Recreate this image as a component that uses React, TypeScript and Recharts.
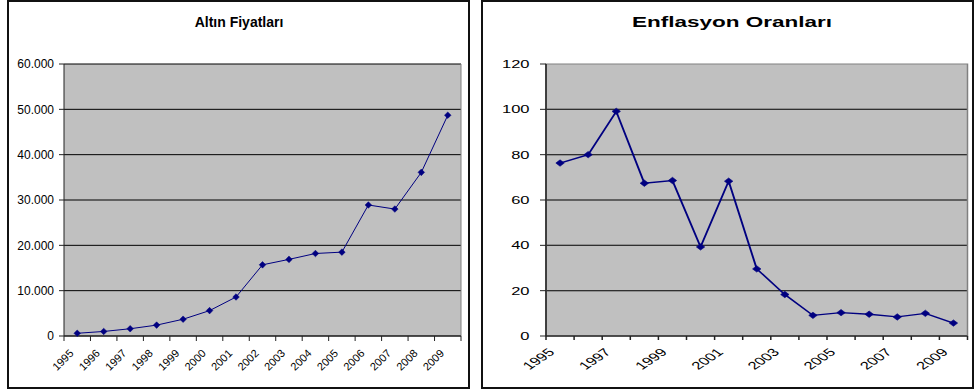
import { LineChart, Line, XAxis, YAxis, CartesianGrid, ReferenceArea, ReferenceLine } from 'recharts';

const years = ['1995', '1996', '1997', '1998', '1999', '2000', '2001', '2002', '2003', '2004', '2005', '2006', '2007', '2008', '2009'];
const goldPrices = [600, 1000, 1600, 2400, 3700, 5600, 8600, 15700, 16900, 18200, 18500, 28900, 28000, 36100, 48700];
const inflationRates = [76.3, 80, 99.1, 67.4, 68.6, 39.3, 68.3, 29.6, 18.3, 9.1, 10.3, 9.6, 8.4, 10.0, 5.7];
const goldTicks = [0, 10000, 20000, 30000, 40000, 50000, 60000];
const inflationTicks = [0, 20, 40, 60, 80, 100, 120];
const inflationLabelYears = ['1995', '1997', '1999', '2001', '2003', '2005', '2007', '2009'];

const FONT = '"Liberation Sans", Arial, sans-serif';
const NAVY = '#000080';

// boundaries between years, the points sit half way between them
const yearBounds = years.map((_, i) => i).concat(years.length);

const goldData = years.map((year, i) => ({ pos: i + 0.5, year, value: goldPrices[i] }));
const inflationData = years.map((year, i) => ({ pos: i + 0.5, year, value: inflationRates[i] }));

// left chart layout
const L_W = 470;
const L_H = 391;
const L_MARGIN = { top: 64, right: 9, bottom: 10, left: 0 };
const L_YAXIS_W = 64;
const L_STEP = (L_W - L_MARGIN.left - L_MARGIN.right - L_YAXIS_W) / years.length;

// right chart is drawn narrow and stretched sideways
const R_SCALE = 1.5;
const R_W = 329;
const R_H = 391;
const R_MARGIN = { top: 64, right: 4, bottom: 10, left: 0 };
const R_YAXIS_W = 44;
const R_STEP = (R_W - R_MARGIN.left - R_MARGIN.right - R_YAXIS_W) / years.length;

const formatThousands = (v: number) => String(v).replace(/\B(?=(\d{3})+(?!\d))/g, '.');

const Diamond = ({ cx, cy, rx, ry }: any) => {
  if (cx == null || cy == null) return <g />;
  return (
    <polygon
      points={`${cx},${cy - ry} ${cx + rx},${cy} ${cx},${cy + ry} ${cx - rx},${cy}`}
      fill={NAVY}
      stroke={NAVY}
      strokeWidth={0.5}
    />
  );
};

const YearTick = ({ x, y, payload, step, labels }: any) => {
  const idx = payload.value;
  const label = years[idx];
  if (label == null || !labels.includes(label)) return <g />;
  const tx = x + step / 2 - 3;
  const ty = y + 11;
  return (
    <text
      x={tx}
      y={ty}
      textAnchor="end"
      fontSize={11}
      fontFamily={FONT}
      fill="#000"
      transform={`rotate(-45, ${tx}, ${ty})`}
    >
      {label}
    </text>
  );
};

const frameStyle = {
  position: 'absolute' as const,
  top: 0,
  height: 389,
  border: '2px solid #111',
  boxSizing: 'border-box' as const,
};

export default function App() {
  return (
    <div style={{ position: 'absolute', left: 0, top: 0, width: 974, height: 391, background: '#fff', fontFamily: FONT }}>
      <div style={{ ...frameStyle, left: 7, width: 463 }} />
      <div style={{ ...frameStyle, left: 481, width: 493 }} />

      <div
        style={{ position: 'absolute', left: 139, top: 14, width: 200, textAlign: 'center', fontSize: 14, fontWeight: 'bold', color: '#000' }}
      >
        Altın Fiyatları
      </div>
      <div
        style={{
          position: 'absolute',
          left: 632,
          top: 13,
          width: 200,
          textAlign: 'center',
          fontSize: 15,
          fontWeight: 'bold',
          color: '#000',
          transform: `scaleX(${R_SCALE})`,
          transformOrigin: '50% 50%',
          whiteSpace: 'nowrap',
        }}
      >
        Enflasyon Oranları
      </div>

      {/* Altın Fiyatları */}
      <div style={{ position: 'absolute', left: 0, top: 0 }}>
        <LineChart width={L_W} height={L_H} data={goldData} margin={L_MARGIN}>
          <CartesianGrid vertical={false} fill="#c0c0c0" fillOpacity={1} stroke="#000" horizontalValues={goldTicks} />
          <ReferenceLine x={years.length} stroke="#808080" ifOverflow="extendDomain" />
          <XAxis
            dataKey="pos"
            type="number"
            domain={[0, years.length]}
            ticks={yearBounds}
            interval={0}
            height={45}
            tickSize={5}
            tickMargin={2}
            stroke="#222"
            tick={(p: any) => <YearTick {...p} step={L_STEP} labels={years} />}
          />
          <YAxis
            type="number"
            domain={[0, 60000]}
            ticks={goldTicks}
            interval={0}
            width={L_YAXIS_W}
            tickSize={5}
            tickMargin={5}
            stroke="#222"
            tickFormatter={formatThousands}
            tick={{ fontSize: 12, fill: '#000', fontFamily: FONT }}
          />
          <Line
            type="linear"
            dataKey="value"
            stroke={NAVY}
            strokeWidth={1}
            dot={(p: any) => <Diamond key={p.index} {...p} rx={3.3} ry={3.3} />}
            activeDot={false}
            isAnimationActive={false}
          />
        </LineChart>
      </div>

      {/* Enflasyon Oranları */}
      <div style={{ position: 'absolute', left: 480, top: 0, transform: `scaleX(${R_SCALE})`, transformOrigin: '0 0' }}>
        <LineChart width={R_W} height={R_H} data={inflationData} margin={R_MARGIN}>
          <CartesianGrid vertical={false} fill="#c0c0c0" fillOpacity={1} stroke="#000" horizontalValues={inflationTicks.slice(0, -1)} />
          <ReferenceArea x1={0} x2={years.length} y1={0} y2={120} fill="none" stroke="#808080" />
          <XAxis
            dataKey="pos"
            type="number"
            domain={[0, years.length]}
            ticks={yearBounds}
            interval={0}
            height={45}
            tickSize={4}
            tickMargin={2}
            stroke="#222"
            tick={(p: any) => <YearTick {...p} step={R_STEP} labels={inflationLabelYears} />}
          />
          <YAxis
            type="number"
            domain={[0, 120]}
            ticks={inflationTicks}
            interval={0}
            width={R_YAXIS_W}
            tickSize={4}
            tickMargin={7}
            stroke="#222"
            tick={{ fontSize: 11, fill: '#000', fontFamily: FONT }}
          />
          <Line
            type="linear"
            dataKey="value"
            stroke={NAVY}
            strokeWidth={1.3}
            dot={(p: any) => <Diamond key={p.index} {...p} rx={2.8} ry={3.2} />}
            activeDot={false}
            isAnimationActive={false}
          />
        </LineChart>
      </div>
    </div>
  );
}
